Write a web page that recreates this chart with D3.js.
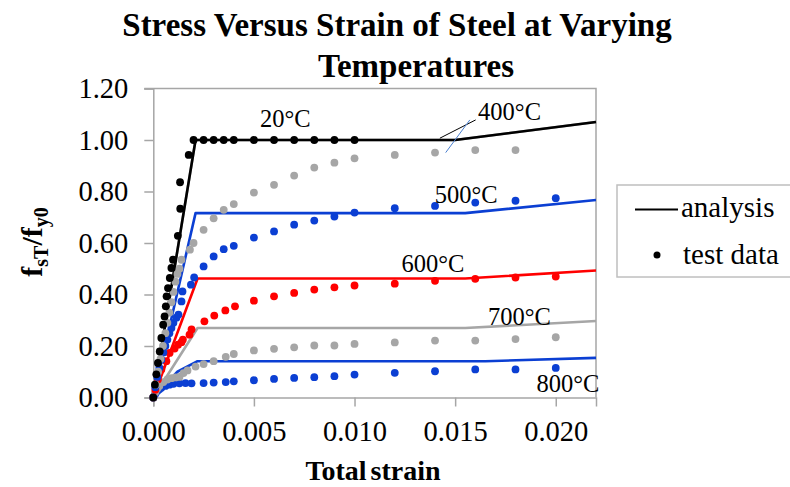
<!DOCTYPE html>
<html>
<head>
<meta charset="utf-8">
<script src="https://cdn.jsdelivr.net/npm/d3@7"></script>
<style>
  html, body { margin: 0; padding: 0; background: #fff; }
  svg { display: block; font-family: "Liberation Serif", "Times New Roman", serif; }
</style>
</head>
<body>
<svg id="chart" width="790" height="487"></svg>
<script>
// Axis ticks
const xTicks = [0, 0.005, 0.010, 0.015, 0.020];
const yTicks = [0, 0.2, 0.4, 0.6, 0.8, 1.0, 1.2];

// Analysis curves (strain, fsT/fy0)
const analysis20Strain  = [0, 0.0021, 0.0150, 0.022];
const analysis20Ratio   = [0, 1.000, 1.000, 1.070];
const analysis400Strain = [0, 0.0021, 0.0150, 0.022];
const analysis400Ratio  = [0, 1.000, 1.000, 1.070];
const analysis500Strain = [0, 0.0021, 0.0155, 0.022];
const analysis500Ratio  = [0, 0.716, 0.716, 0.767];
const analysis600Strain = [0, 0.0022, 0.0155, 0.022];
const analysis600Ratio  = [0, 0.462, 0.462, 0.493];
const analysis700Strain = [0, 0.0022, 0.0155, 0.022];
const analysis700Ratio  = [0, 0.270, 0.270, 0.297];
const analysis800Strain = [0, 0.0012, 0.0022, 0.0165, 0.022];
const analysis800Ratio  = [0, 0.100, 0.141, 0.141, 0.154];

// Test data (strain, fsT/fy0)
const test20Strain = [0, 0.00008, 0.00015, 0.00023, 0.00032, 0.0004, 0.00049, 0.00056, 0.00062, 0.00066,
  0.00073, 0.00082, 0.0009, 0.00098, 0.00122, 0.00134, 0.00133, 0.00176, 0.002, 0.0025, 0.003, 0.0035,
  0.004, 0.005, 0.006, 0.007, 0.008, 0.009, 0.010];
const test20Ratio = [0, 0.05, 0.09, 0.134, 0.179, 0.231, 0.283, 0.315, 0.354, 0.393,
  0.425, 0.464, 0.503, 0.535, 0.628, 0.733, 0.836, 0.942, 1.0, 1.0, 1.0, 1.0,
  1.0, 1.0, 1.0, 1.0, 1.0, 1.0, 1.0];

const test400Strain = [0, 0.00012, 0.00024, 0.00036, 0.00048, 0.0006, 0.0007, 0.0008, 0.0009, 0.001,
  0.0011, 0.0012, 0.0013, 0.0014, 0.00182, 0.002, 0.0025, 0.003, 0.0035, 0.004, 0.005, 0.006, 0.007,
  0.008, 0.009, 0.010, 0.012, 0.014, 0.016, 0.018];
const test400Ratio = [0, 0.05, 0.10, 0.15, 0.20, 0.25, 0.29, 0.33, 0.37, 0.41,
  0.45, 0.48, 0.50, 0.535, 0.574, 0.600, 0.651, 0.696, 0.729, 0.751, 0.796, 0.826, 0.862,
  0.893, 0.912, 0.929, 0.942, 0.951, 0.961, 0.961];

const test500Strain = [0, 0.0001, 0.0002, 0.0003, 0.0004, 0.0005, 0.0006, 0.0007, 0.0008, 0.0009,
  0.001, 0.00115, 0.00125, 0.0014, 0.00145, 0.00187, 0.00203, 0.0025, 0.003, 0.0035, 0.004, 0.005,
  0.006, 0.007, 0.008, 0.009, 0.010, 0.012, 0.014, 0.016, 0.018, 0.020];
const test500Ratio = [0, 0.04, 0.08, 0.115, 0.147, 0.175, 0.20, 0.225, 0.25, 0.27,
  0.29, 0.31, 0.322, 0.373, 0.412, 0.438, 0.466, 0.509, 0.548, 0.576, 0.589, 0.621,
  0.645, 0.671, 0.687, 0.703, 0.718, 0.735, 0.744, 0.757, 0.764, 0.774];

const test600Strain = [0, 0.0001, 0.00023, 0.0004, 0.00065, 0.00081, 0.00106, 0.00123, 0.0014, 0.00147,
  0.0018, 0.0019, 0.00254, 0.00303, 0.00358, 0.00406, 0.005, 0.006, 0.007, 0.008, 0.009, 0.010,
  0.012, 0.014, 0.016, 0.018, 0.020];
const test600Ratio = [0, 0.03, 0.07, 0.109, 0.141, 0.173, 0.19, 0.205, 0.215, 0.225,
  0.244, 0.264, 0.296, 0.318, 0.338, 0.354, 0.376, 0.393, 0.406, 0.419, 0.428, 0.435,
  0.442, 0.453, 0.461, 0.466, 0.470];

const test700Strain = [0, 0.0001, 0.0002, 0.0003, 0.0005, 0.0007, 0.0009, 0.0011, 0.0013, 0.0015,
  0.0017, 0.0021, 0.0025, 0.003, 0.0036, 0.004, 0.005, 0.006, 0.007, 0.008, 0.009, 0.010,
  0.012, 0.014, 0.016, 0.018, 0.020];
const test700Ratio = [0, 0.02, 0.035, 0.045, 0.06, 0.07, 0.075, 0.078, 0.08, 0.095,
  0.105, 0.12, 0.13, 0.141, 0.158, 0.169, 0.183, 0.189, 0.195, 0.202, 0.202, 0.208,
  0.214, 0.221, 0.221, 0.227, 0.234];

const test800Strain = [0, 0.0001, 0.0002, 0.0003, 0.0004, 0.0006, 0.0008, 0.001, 0.0013, 0.0016,
  0.0019, 0.0025, 0.003, 0.0036, 0.004, 0.005, 0.006, 0.007, 0.008, 0.009, 0.010,
  0.012, 0.014, 0.016, 0.018, 0.020];
const test800Ratio = [0, 0.015, 0.025, 0.032, 0.038, 0.045, 0.05, 0.053, 0.055, 0.056,
  0.055, 0.056, 0.058, 0.06, 0.063, 0.067, 0.072, 0.076, 0.079, 0.083, 0.089,
  0.096, 0.102, 0.109, 0.109, 0.115];

// Temperature labels, anchored in data units (strain, ratio at baseline)
const labelText   = ["20°C", "400°C", "500°C", "600°C", "700°C", "800°C"];
const labelStrain = [0.0053, 0.01614, 0.01399, 0.01233, 0.01663, 0.01904];
const labelRatio  = [1.049, 1.078, 0.757, 0.486, 0.282, 0.0225];

const colors = { black: "#000000", gray: "#a6a6a6", blue: "#0b3fd3", red: "#ff0000" };

const zip = (xs, ys) => xs.map((v, i) => [v, ys[i]]);

const analysisSeries = [
  { pts: zip(analysis400Strain, analysis400Ratio), color: colors.gray },
  { pts: zip(analysis20Strain, analysis20Ratio), color: colors.black },
  { pts: zip(analysis500Strain, analysis500Ratio), color: colors.blue },
  { pts: zip(analysis600Strain, analysis600Ratio), color: colors.red },
  { pts: zip(analysis700Strain, analysis700Ratio), color: colors.gray },
  { pts: zip(analysis800Strain, analysis800Ratio), color: colors.blue }
];
const testSeries = [
  { pts: zip(test800Strain, test800Ratio), color: colors.blue },
  { pts: zip(test700Strain, test700Ratio), color: colors.gray },
  { pts: zip(test600Strain, test600Ratio), color: colors.red },
  { pts: zip(test500Strain, test500Ratio), color: colors.blue },
  { pts: zip(test400Strain, test400Ratio), color: colors.gray },
  { pts: zip(test20Strain, test20Ratio), color: colors.black }
];

const svg = d3.select("#chart");
const plotLeft = 153.3, plotRight = 596, plotTop = 88.5, plotBottom = 397.5;

const x = d3.scaleLinear().domain([0, 0.022]).range([plotLeft, plotRight]);
const y = d3.scaleLinear().domain([0, 1.2]).range([plotBottom, plotTop]);

// Title
svg.append("text")
  .attr("x", 397).attr("y", 36)
  .attr("text-anchor", "middle")
  .attr("font-weight", "bold").attr("font-size", 33)
  .text("Stress Versus Strain of Steel at Varying");
svg.append("text")
  .attr("x", 416).attr("y", 77)
  .attr("text-anchor", "middle")
  .attr("font-weight", "bold").attr("font-size", 33)
  .text("Temperatures");

// Plot frame (top and right)
svg.append("path")
  .attr("d", `M${plotLeft - 9},${plotTop}H${plotRight}V${plotBottom}`)
  .attr("fill", "none").attr("stroke", "#a6a6a6").attr("stroke-width", 1.5);

// Axes
const yAxis = svg.append("g")
  .attr("transform", `translate(${plotLeft},0)`)
  .call(d3.axisLeft(y).tickValues(yTicks).tickSize(9).tickPadding(16).tickFormat(d3.format(".2f")));
const xAxis = svg.append("g")
  .attr("transform", `translate(0,${plotBottom})`)
  .call(d3.axisBottom(x).tickValues(xTicks).tickSize(9).tickPadding(14).tickFormat(d3.format(".3f")));
[xAxis, yAxis].forEach(g => {
  g.select(".domain").attr("stroke", "#a6a6a6").attr("stroke-width", 1.5);
  g.selectAll(".tick line").attr("stroke", "#a6a6a6").attr("stroke-width", 1.5);
  g.selectAll(".tick text")
    .attr("font-family", "Liberation Serif, Times New Roman, serif")
    .attr("font-size", 28.5).attr("fill", "#000");
});

// Axis titles
svg.append("text")
  .attr("x", 373).attr("y", 480)
  .attr("text-anchor", "middle")
  .attr("font-weight", "bold").attr("font-size", 28)
  .attr("word-spacing", -3)
  .text("Total strain");

const yTitle = svg.append("text")
  .attr("transform", "translate(42,242) rotate(-90)")
  .attr("text-anchor", "middle")
  .attr("font-weight", "bold").attr("font-size", 30);
yTitle.append("tspan").text("f");
yTitle.append("tspan").attr("font-size", 20).attr("dy", 6).text("sT");
yTitle.append("tspan").attr("dy", -6).text("/f");
yTitle.append("tspan").attr("font-size", 20).attr("dy", 6).text("y0");

// Analysis lines
const line = d3.line().x(d => x(d[0])).y(d => y(d[1]));
svg.append("g").selectAll("path")
  .data(analysisSeries).join("path")
  .attr("d", d => line(d.pts))
  .attr("fill", "none")
  .attr("stroke", d => d.color)
  .attr("stroke-width", 2.6)
  .attr("stroke-linejoin", "round");

// Test data points
svg.append("g").selectAll("g")
  .data(testSeries).join("g")
  .attr("fill", d => d.color)
  .selectAll("circle")
  .data(d => d.pts).join("circle")
  .attr("cx", d => x(d[0])).attr("cy", d => y(d[1]))
  .attr("r", 3.9);

// Leader lines for the 400°C label
svg.append("line")
  .attr("x1", x(0.01424)).attr("y1", y(1.007))
  .attr("x2", x(0.01602)).attr("y2", y(1.078))
  .attr("stroke", "#000").attr("stroke-width", 1);
svg.append("line")
  .attr("x1", x(0.01453)).attr("y1", y(0.951))
  .attr("x2", x(0.01573)).attr("y2", y(1.078))
  .attr("stroke", "#4a7fd0").attr("stroke-width", 1);

// Temperature labels
svg.append("g").selectAll("text")
  .data(labelText).join("text")
  .attr("x", (d, i) => x(labelStrain[i]))
  .attr("y", (d, i) => y(labelRatio[i]))
  .attr("font-size", 24.5).attr("fill", "#000")
  .text(d => d);

// Legend
const legend = svg.append("g");
legend.append("rect")
  .attr("x", 617).attr("y", 185).attr("width", 190).attr("height", 92)
  .attr("fill", "#fff").attr("stroke", "#bfbfbf").attr("stroke-width", 1.5);
legend.append("line")
  .attr("x1", 635).attr("x2", 678).attr("y1", 209.5).attr("y2", 209.5)
  .attr("stroke", "#000").attr("stroke-width", 2);
legend.append("text")
  .attr("x", 681).attr("y", 217).attr("font-size", 29).text("analysis");
legend.append("circle")
  .attr("cx", 657).attr("cy", 255).attr("r", 3.5).attr("fill", "#000");
legend.append("text")
  .attr("x", 683).attr("y", 263.5).attr("font-size", 29).text("test data");
</script>
</body>
</html>
